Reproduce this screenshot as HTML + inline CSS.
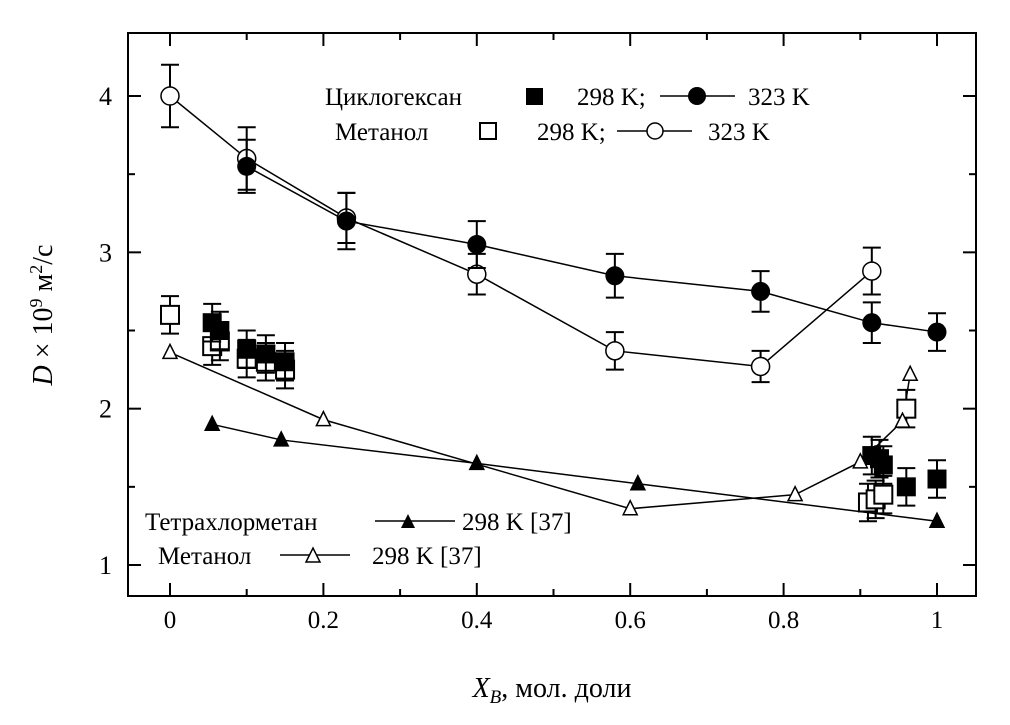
<!DOCTYPE html>
<html><head><meta charset="utf-8"><style>
body{margin:0;background:#fff}
svg text{font-family:"Liberation Serif","Noto Serif CJK SC",serif;fill:#000}
</style></head><body>
<svg id="chart" width="1010" height="720" xmlns="http://www.w3.org/2000/svg">
<rect x="128" y="33" width="848" height="563" fill="none" stroke="#000" stroke-width="2"/>
<g id="axes"></g><g id="marks"></g>
<text transform="translate(52,315) rotate(-90)" text-anchor="middle" font-size="28"><tspan font-style="italic">D</tspan> × 10<tspan font-size="18" dy="-10">9</tspan><tspan dy="10"> м</tspan><tspan font-size="18" dy="-10">2</tspan><tspan dy="10">/с</tspan></text>
<text x="552" y="697" text-anchor="middle" font-size="28"><tspan font-style="italic">X</tspan><tspan font-style="italic" font-size="19" dy="6">B</tspan><tspan dy="-6">, мол. доли</tspan></text>
<g font-size="25">
<text x="325" y="105">Циклогексан</text><rect x="526" y="88" width="17" height="17" fill="#000"/>
<text x="577" y="105">298 K;</text><line x1="660" y1="96" x2="735" y2="96" stroke="#000" stroke-width="1.5"/><circle cx="697" cy="96" r="9" fill="#000"/><text x="748" y="105">323 K</text>
<text x="335" y="140">Метанол</text><rect x="480" y="123" width="16" height="16" fill="#fff" stroke="#000" stroke-width="2"/>
<text x="537" y="140">298 K;</text><line x1="617" y1="131" x2="692" y2="131" stroke="#000" stroke-width="1.5"/><circle cx="655" cy="131" r="8" fill="#fff" stroke="#000" stroke-width="1.5"/><text x="708" y="140">323 K</text>
</g>
<g font-size="25">
<text x="145" y="530">Тетрахлорметан</text><line x1="375" y1="521" x2="455" y2="521" stroke="#000" stroke-width="1.5"/><path d="M401,528 L415,528 L408,514Z" fill="#000"/><text x="462" y="530">298 K [37]</text>
<text x="158" y="564">Метанол</text><line x1="280" y1="555" x2="350" y2="555" stroke="#000" stroke-width="1.5"/><path d="M306,562 L320,562 L313,548Z" fill="#fff" stroke="#000" stroke-width="1.5"/><text x="372" y="564">298 K [37]</text>
</g>
</svg>
<script>
const xTicks=[0,0.2,0.4,0.6,0.8,1];
const xTickLabels=["0","0.2","0.4","0.6","0.8","1"];
const yTicks=[1,2,3,4];
const yTickLabels=["1","2","3","4"];
const cyc298X=[0.055,0.065,0.1,0.125,0.15,0.915,0.925,0.93,0.96,1.0];
const cyc298Y=[2.55,2.5,2.38,2.35,2.3,1.7,1.68,1.64,1.5,1.55];
const met298X=[0,0.055,0.065,0.1,0.125,0.15,0.91,0.92,0.93,0.96];
const met298Y=[2.6,2.4,2.43,2.32,2.3,2.25,1.4,1.42,1.45,2.0];
const cyc323X=[0.1,0.23,0.4,0.58,0.77,0.915,1.0];
const cyc323Y=[3.55,3.2,3.05,2.85,2.75,2.55,2.49];
const cyc323Err=[0.17,0.18,0.15,0.14,0.13,0.13,0.12];
const met323X=[0,0.1,0.23,0.4,0.58,0.77,0.915];
const met323Y=[4.0,3.6,3.22,2.86,2.37,2.27,2.88];
const met323Err=[0.2,0.2,0.16,0.13,0.12,0.1,0.15];
const ccl4X=[0.055,0.145,0.4,0.61,1.0];
const ccl4Y=[1.9,1.8,1.65,1.52,1.28];
const metLitX=[0,0.2,0.6,0.815,0.9,0.955,0.965];
const metLitY=[2.36,1.93,1.36,1.45,1.66,1.92,2.22];
const err298=0.12;
const NS="http://www.w3.org/2000/svg";
const sx=v=>170+767*v, sy=v=>565-156.33*(v-1);
const axes=document.getElementById('axes'), marks=document.getElementById('marks');
function el(t,a,p){const e=document.createElementNS(NS,t);for(const k in a)e.setAttribute(k,a[k]);(p||marks).appendChild(e);return e;}
for(let i=0;i<=10;i++){const x=sx(i/10),L=i%2?7:13;
 const t=el('line',{x1:x,x2:x,y1:596,y2:596-L,stroke:'#000','stroke-width':2},axes);
 el('line',{x1:x,x2:x,y1:33,y2:33+L,stroke:'#000','stroke-width':2},axes);}
xTicks.forEach((v,i)=>{const t=el('text',{x:sx(v),y:628,'text-anchor':'middle','font-size':25},axes);t.textContent=xTickLabels[i];});
for(let v=1;v<=4.001;v+=0.5){const y=sy(v),L=(v%1)?7:13;
 const t=el('line',{x1:128,x2:128+L,y1:y,y2:y,stroke:'#000','stroke-width':2},axes);
 el('line',{x1:976,x2:976-L,y1:y,y2:y,stroke:'#000','stroke-width':2},axes);}
yTicks.forEach((v,i)=>{const t=el('text',{x:112,y:sy(v)+9,'text-anchor':'end','font-size':26},axes);t.textContent=yTickLabels[i];});
function line(X,Y,name){const p=el('polyline',{points:X.map((x,i)=>sx(x)+','+sy(Y[i])).join(' '),fill:'none',stroke:'#000','stroke-width':1.5});}
function ebar(x,y,e){const X=sx(x),a=sy(y+e),b=sy(y-e);el('path',{d:`M${X},${a}V${b}M${X-9},${a}H${X+9}M${X-9},${b}H${X+9}`,stroke:'#000','stroke-width':2,fill:'none'});}
line(cyc323X,cyc323Y,'line-cyclohexane-323');line(met323X,met323Y,'line-methanol-323');
line(ccl4X,ccl4Y,'line-ccl4-298');line(metLitX,metLitY,'line-methanol-lit');
met298X.forEach((x,i)=>{ebar(x,met298Y[i],err298);const r=el('rect',{x:sx(x)-9,y:sy(met298Y[i])-9,width:18,height:18,fill:'#fff',stroke:'#000','stroke-width':2});});
cyc298X.forEach((x,i)=>{ebar(x,cyc298Y[i],err298);const r=el('rect',{x:sx(x)-9.5,y:sy(cyc298Y[i])-9.5,width:19,height:19,fill:'#000'});});
met323X.forEach((x,i)=>{ebar(x,met323Y[i],met323Err[i]);const c=el('circle',{cx:sx(x),cy:sy(met323Y[i]),r:9,fill:'#fff',stroke:'#000','stroke-width':1.5});});
cyc323X.forEach((x,i)=>{ebar(x,cyc323Y[i],cyc323Err[i]);const c=el('circle',{cx:sx(x),cy:sy(cyc323Y[i]),r:9.5,fill:'#000'});});
function tri(x,y,fill,name){const X=sx(x),Y=sy(y);const p=el('path',{d:`M${X-7},${Y+6}L${X+7},${Y+6}L${X},${Y-8}Z`,fill:fill,stroke:'#000','stroke-width':1.5});}
ccl4X.forEach((x,i)=>tri(x,ccl4Y[i],'#000','point-ccl4'));
metLitX.forEach((x,i)=>tri(x,metLitY[i],'#fff','point-methanol-lit'));
</script>
</body></html>
